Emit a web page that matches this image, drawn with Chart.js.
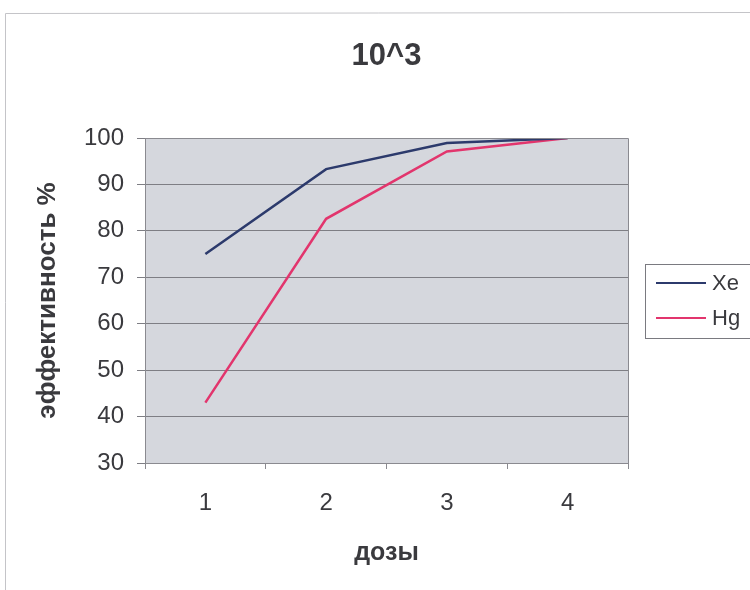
<!DOCTYPE html>
<html>
<head>
<meta charset="utf-8">
<script src="https://cdn.jsdelivr.net/npm/chart.js@4/dist/chart.umd.min.js"></script>
<style>
  html, body { margin: 0; padding: 0; background: #ffffff; }
  #wrap { width: 750px; height: 590px; }
</style>
</head>
<body>
<div id="wrap"><canvas id="c" width="750" height="590"></canvas></div>
<script>
// Dose steps and efficiency (%) for each lamp type
const doses = ['1', '2', '3', '4'];
const xeValues = [75, 93.3, 98.9, 100];
const hgValues = [43, 82.6, 97.1, 100];
const seriesNames = ['Xe', 'Hg'];
const yTickMin = 30;
const yTickMax = 100;
const yTickStep = 10;

const textColor = '#3a3a3e';
const fontFamily = '"Liberation Sans", Arial, sans-serif';

// Grey plot background with a thin frame
const plotBackground = {
  id: 'plotBackground',
  beforeDraw(chart) {
    const { ctx, chartArea: a } = chart;
    ctx.save();
    // page frame
    ctx.strokeStyle = '#c4c4c8';
    ctx.lineWidth = 1;
    ctx.beginPath();
    ctx.moveTo(5.5, 600);
    ctx.lineTo(5.5, 13.5);
    ctx.lineTo(760, 12.5);
    ctx.stroke();
    ctx.fillStyle = '#d5d7dd';
    ctx.fillRect(a.left, a.top, a.right - a.left, a.bottom - a.top);
    ctx.restore();
  },
  afterDatasetsDraw(chart) {
    const { ctx, chartArea: a } = chart;
    ctx.save();
    ctx.strokeStyle = '#8a8a90';
    ctx.lineWidth = 1;
    ctx.beginPath();
    ctx.moveTo(Math.round(a.left) + 0.5, Math.round(a.top) + 0.5);
    ctx.lineTo(Math.round(a.right) + 0.5, Math.round(a.top) + 0.5);
    ctx.lineTo(Math.round(a.right) + 0.5, Math.round(a.bottom) + 0.5);
    ctx.stroke();
    ctx.restore();
  }
};

// Boxed legend to the right of the plot
const boxedLegend = {
  id: 'boxedLegend',
  afterDraw(chart) {
    const { ctx } = chart;
    const left = 645, top = 264, right = 752, bottom = 338;
    ctx.save();
    ctx.strokeStyle = '#7a7a80';
    ctx.lineWidth = 1;
    ctx.strokeRect(left + 0.5, top + 0.5, right - left, bottom - top);
    ctx.font = '22px ' + fontFamily;
    ctx.textBaseline = 'middle';
    ctx.fillStyle = textColor;
    chart.data.datasets.forEach((ds, i) => {
      const y = 283 + i * 35;
      ctx.strokeStyle = ds.borderColor;
      ctx.lineWidth = 2;
      ctx.beginPath();
      ctx.moveTo(656, y);
      ctx.lineTo(706, y);
      ctx.stroke();
      ctx.fillText(ds.label, 712, y + 1);
    });
    ctx.restore();
  }
};

new Chart(document.getElementById('c'), {
  type: 'line',
  data: {
    labels: doses,
    datasets: [
      { label: seriesNames[0], data: xeValues, borderColor: '#2c3a6c', backgroundColor: '#2c3a6c', borderWidth: 2.5, pointRadius: 0, tension: 0 },
      { label: seriesNames[1], data: hgValues, borderColor: '#e2356d', backgroundColor: '#e2356d', borderWidth: 2.5, pointRadius: 0, tension: 0 }
    ]
  },
  options: {
    responsive: false,
    animation: false,
    devicePixelRatio: 1,
    layout: { padding: { left: 5, right: 122, top: 13, bottom: 22 } },
    plugins: {
      legend: { display: false },
      tooltip: { enabled: false },
      title: {
        display: true,
        fullSize: false,
        text: '10^3',
        color: textColor,
        font: { family: fontFamily, size: 31, weight: 'bold' },
        padding: { top: 24.4, bottom: 63.4 }
      }
    },
    scales: {
      x: {
        offset: true,
        afterFit(scale) { scale.height = 105; },
        grid: { offset: true, drawOnChartArea: false, drawTicks: true, tickLength: 6, color: '#8a8a90' },
        border: { display: true, color: '#8a8a90' },
        ticks: { color: textColor, font: { family: fontFamily, size: 24 }, padding: 20, maxRotation: 0 },
        title: {
          display: true,
          text: 'дозы',
          color: textColor,
          font: { family: fontFamily, size: 25, weight: 'bold' },
          padding: { top: 20, bottom: 0 }
        }
      },
      y: {
        min: yTickMin,
        max: yTickMax,
        afterFit(scale) { scale.width = 140; },
        grid: { color: '#7e7e84', lineWidth: 1, tickLength: 8, drawTicks: true },
        border: { display: true, color: '#8a8a90' },
        ticks: { stepSize: yTickStep, color: textColor, font: { family: fontFamily, size: 24 }, padding: 13 },
        title: {
          display: true,
          text: 'эффективность %',
          color: textColor,
          font: { family: fontFamily, size: 26, weight: 'bold' },
          padding: { top: 27, bottom: 10 }
        }
      }
    }
  },
  plugins: [plotBackground, boxedLegend]
});
</script>
</body>
</html>
